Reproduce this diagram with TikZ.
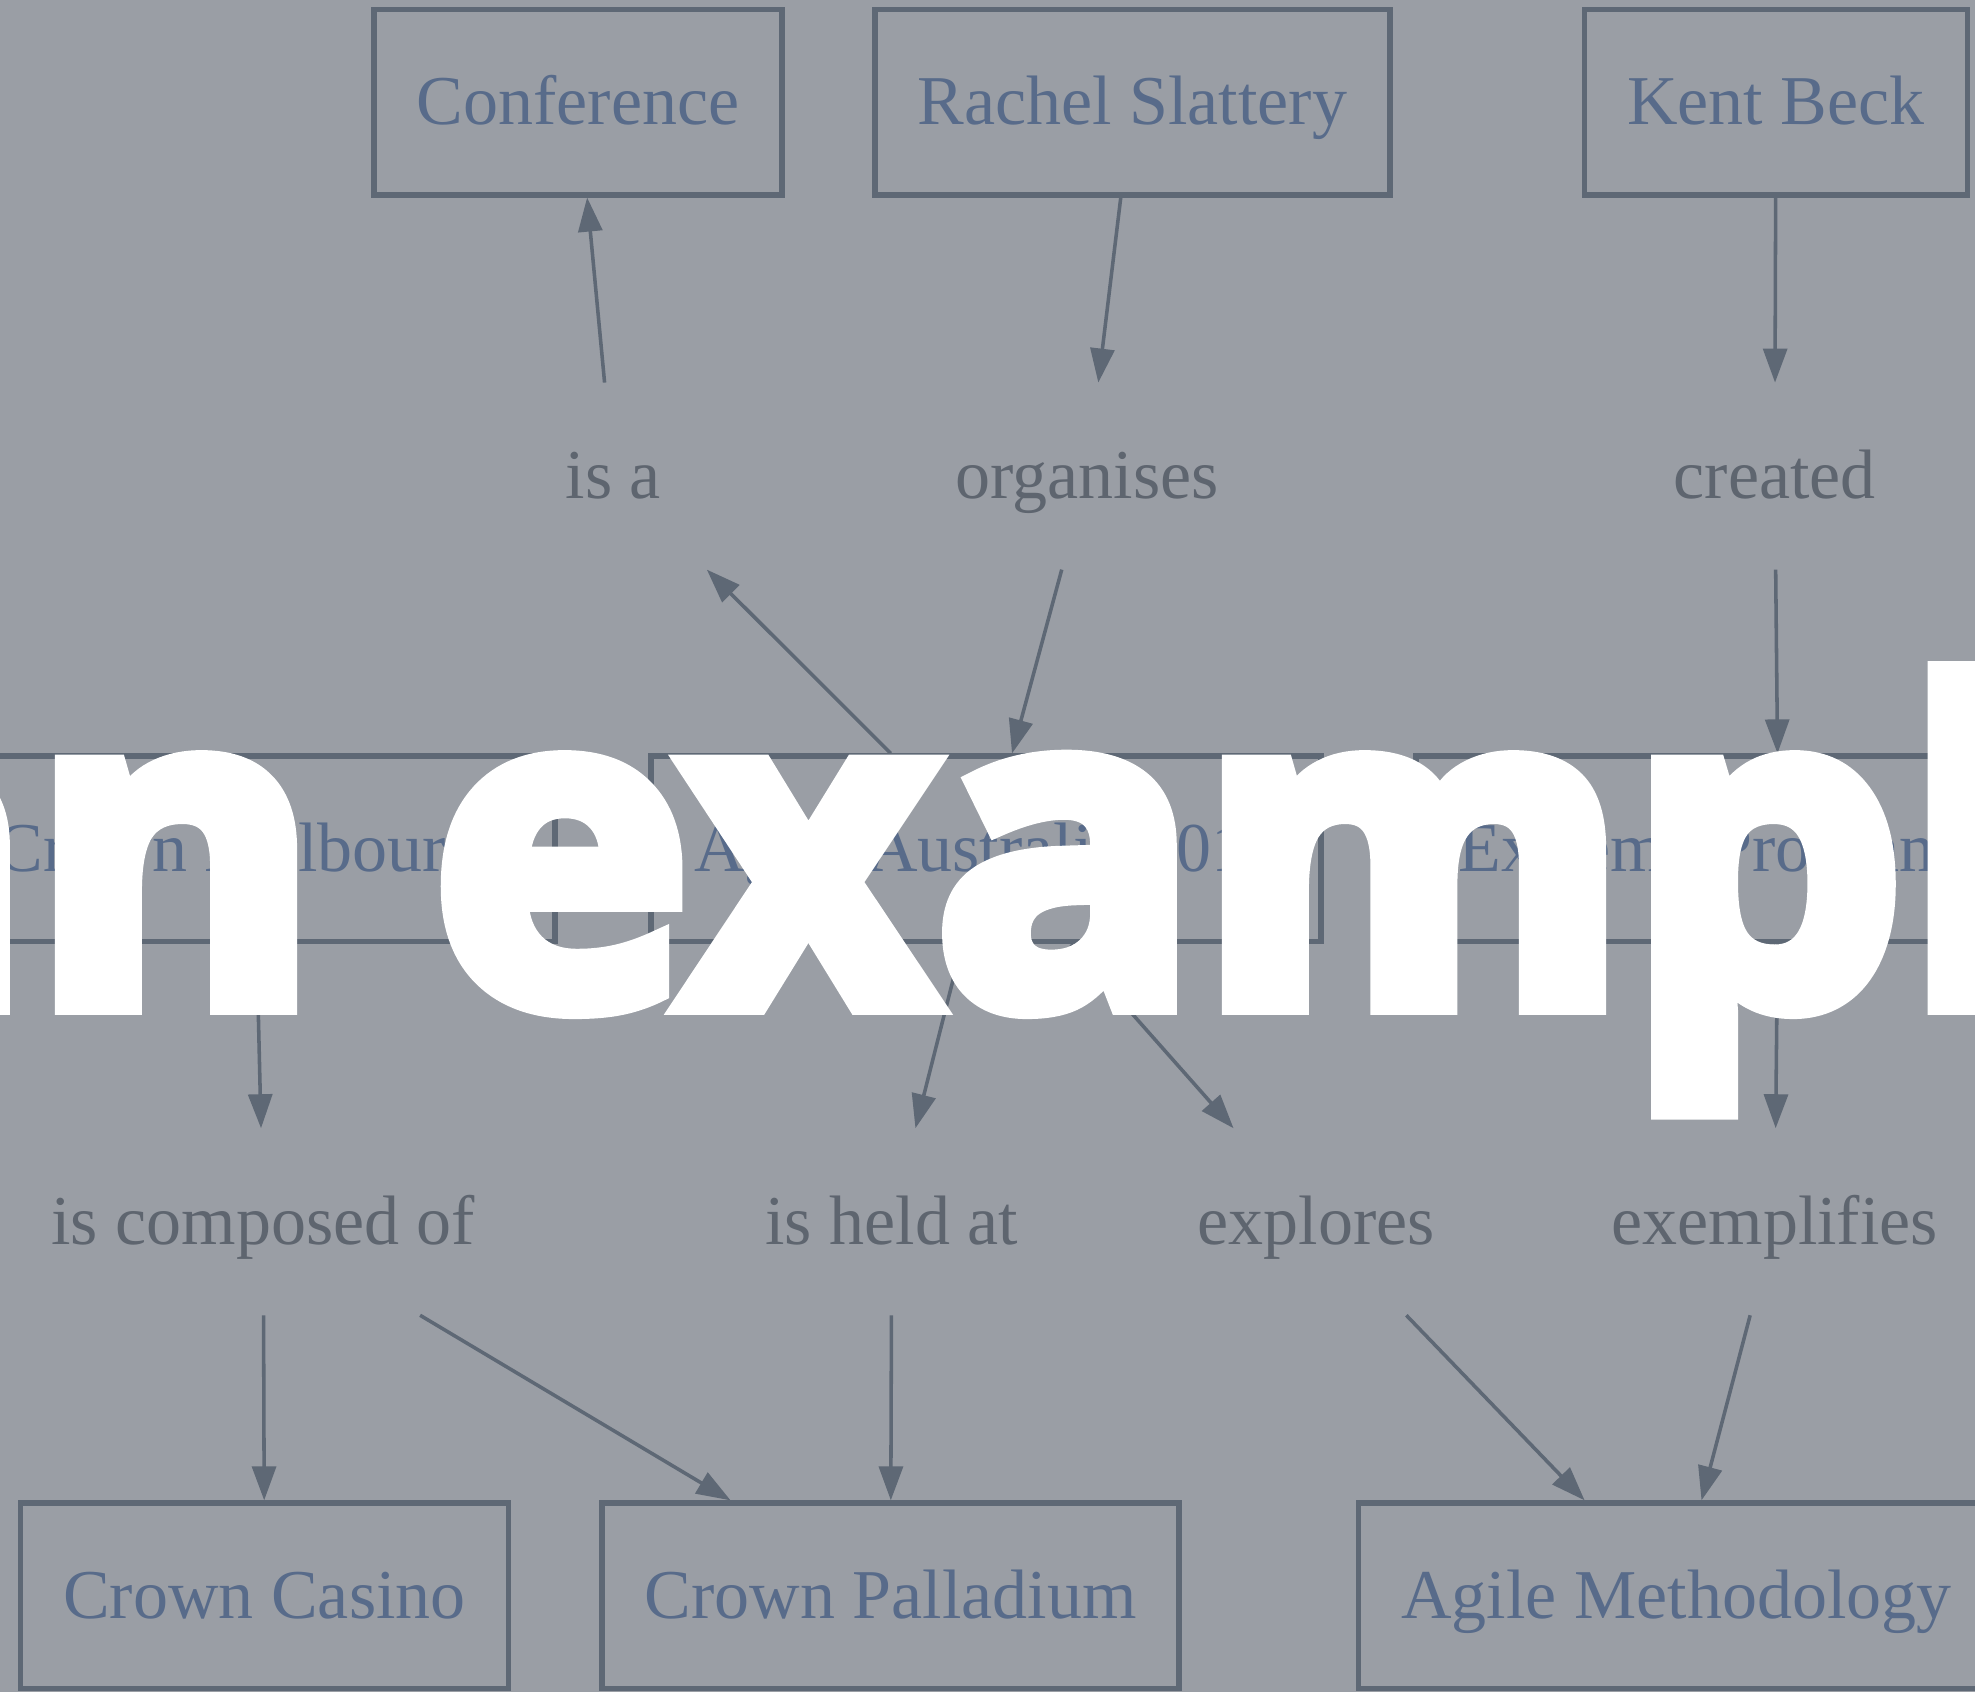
\documentclass[tikz,border=0pt]{standalone}
\usepackage{fontspec}
\setmainfont{Liberation Serif}
\newfontfamily\markfont{Open Sans}[BoldFeatures={FakeBold=5}]
\usetikzlibrary{arrows.meta}

\definecolor{bggray}{RGB}{154,158,165}
\definecolor{edgegray}{RGB}{94,104,117}
\definecolor{conceptblue}{RGB}{88,107,138}
\definecolor{relgray}{RGB}{94,101,111}

\begin{document}
\begin{tikzpicture}[x=0.01cm, y=-0.01cm,
    concept/.style={draw=edgegray, line width=1.3pt, text=conceptblue,
      font=\fontsize{15.8pt}{19pt}\selectfont, inner xsep=0.34cm,
      minimum width=2.2cm, minimum height=1.47cm, text height=13.6pt, text depth=3.5pt},
    relation/.style={text=relgray, font=\fontsize{15.8pt}{19pt}\selectfont,
      inner xsep=0.34cm, minimum width=2.2cm, minimum height=1.47cm,
      text height=13.6pt, text depth=3.5pt},
    link/.style={draw=edgegray, line width=0.8pt, -{Triangle[length=0.27cm, width=0.19cm]}}]
  \clip (0,0) rectangle (1568,1343);
  \fill[bggray] (0,0) rectangle (1568,1343);

  % concepts
  \node[concept] (conference) at (459, 81) {Conference};
  \node[concept] (rachel) at (899, 81) {Rachel Slattery};
  \node[concept] (kent) at (1410, 81) {Kent Beck};
  \node[concept] (melbourne) at (202, 674) {Crown Melbourne};
  \node[concept] (agileaus) at (783, 674) {Agile Australia 2011};
  \node[concept] (xp) at (1412, 674) {Extreme Programming};
  \node[concept] (casino) at (210, 1267) {Crown Casino};
  \node[concept] (palladium) at (707, 1267) {Crown Palladium};
  \node[concept] (agilemeth) at (1331, 1267) {Agile Methodology};

  % relations
  \node[relation] (isa) at (487, 378) {is a};
  \node[relation] (organises) at (863, 378) {organises};
  \node[relation] (created) at (1409, 378) {created};
  \node[relation] (composed) at (209, 970) {is composed of};
  \node[relation] (heldat) at (708, 970) {is held at};
  \node[relation] (explores) at (1045, 970) {explores};
  \node[relation] (exemplifies) at (1409, 970) {exemplifies};

  \draw[link] (isa) -- (conference);
  \draw[link] (rachel) -- (organises);
  \draw[link] (kent) -- (created);
  \draw[link] (agileaus) -- (isa);
  \draw[link] (organises) -- (agileaus);
  \draw[link] (created) -- (xp);
  \draw[link] (melbourne) -- (composed);
  \draw[link] (agileaus) -- (heldat);
  \draw[link] (agileaus) -- (explores);
  \draw[link] (xp) -- (exemplifies);
  \draw[link] (composed) -- (casino);
  \draw[link] (composed) -- (palladium);
  \draw[link] (heldat) -- (palladium);
  \draw[link] (explores) -- (agilemeth);
  \draw[link] (exemplifies) -- (agilemeth);

  % overlay
  \node[anchor=base west, inner sep=0pt, text=white, xscale=0.881, yscale=0.88,
    font=\markfont\bfseries\fontsize{112pt}{112pt}\selectfont] (mark) at (-185, 797) {an example};
\end{tikzpicture}
\end{document}
